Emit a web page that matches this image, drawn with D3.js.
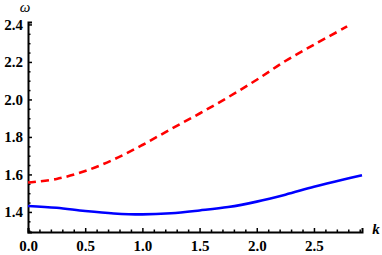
<!DOCTYPE html>
<html>
<head>
<meta charset="utf-8">
<script src="https://cdn.jsdelivr.net/npm/d3@7"></script>
<style>
  body { margin: 0; background: #fff; }
  svg text { font-family: 'Liberation Serif', 'DejaVu Serif', serif; }
</style>
</head>
<body>
<div id="chart"></div>
<script>
// wave numbers and the two branches
var kUpper = [0, 0.25, 0.5, 0.75, 1.0, 1.25, 1.5, 1.75, 2.0, 2.25, 2.5, 2.75, 2.79];
var omegaUpper = [1.557, 1.576, 1.618, 1.680, 1.757, 1.842, 1.925, 2.012, 2.105, 2.205, 2.292, 2.376, 2.39];
var kLower = [0, 0.25, 0.5, 0.75, 1.0, 1.25, 1.5, 1.75, 2.0, 2.25, 2.5, 2.75, 2.92];
var omegaLower = [1.432, 1.422, 1.405, 1.392, 1.387, 1.393, 1.408, 1.426, 1.455, 1.492, 1.534, 1.572, 1.596];
var xTicks = [0, 0.5, 1.0, 1.5, 2.0, 2.5];
var yTicks = [1.4, 1.6, 1.8, 2.0, 2.2, 2.4];

var width = 382, height = 255;
var margin = { left: 28, right: 20, top: 22, bottom: 23 };

var svg = d3.select('#chart').append('svg')
  .attr('width', width)
  .attr('height', height);

var x = d3.scaleLinear()
  .domain([0, 2.92])
  .range([margin.left, width - margin.right]);

var y = d3.scaleLinear()
  .domain([1.293, 2.413])
  .range([height - margin.bottom, margin.top]);

// minor ticks, Mathematica style
var xMinor = d3.range(0, 2.95, 0.1).filter(function(d) {
  return Math.abs(d * 2 - Math.round(d * 2)) > 1e-6;
});
var yMinor = d3.range(1.3, 2.42, 0.05).filter(function(d) {
  return Math.abs(d * 5 - Math.round(d * 5)) > 1e-6;
});

var gx = svg.append('g')
  .attr('transform', 'translate(0,' + (height - margin.bottom) + ')');
gx.call(d3.axisBottom(x).tickValues(xTicks).tickFormat(d3.format('.1f')).tickSize(-4).tickPadding(8));
gx.append('g').call(d3.axisBottom(x).tickValues(xMinor).tickFormat('').tickSize(-2.5))
  .select('.domain').remove();

var gy = svg.append('g')
  .attr('transform', 'translate(' + margin.left + ',0)');
gy.call(d3.axisLeft(y).tickValues(yTicks).tickFormat(d3.format('.1f')).tickSize(-4).tickPadding(5));
gy.append('g').call(d3.axisLeft(y).tickValues(yMinor).tickFormat('').tickSize(-2.5))
  .select('.domain').remove();

svg.selectAll('.domain').attr('stroke', '#000').attr('stroke-width', 2);
svg.selectAll('.tick line').attr('stroke', '#000').attr('stroke-width', 1.5);
svg.selectAll('.tick text')
  .attr('fill', '#000')
  .style('font-weight', '700')
  .style('font-size', '15px');

var line = d3.line()
  .x(function(d) { return x(d[0]); })
  .y(function(d) { return y(d[1]); })
  .curve(d3.curveCatmullRom.alpha(0.5));

svg.append('path')
  .datum(d3.zip(kLower, omegaLower))
  .attr('fill', 'none')
  .attr('stroke', '#0000ff')
  .attr('stroke-width', 2.6)
  .attr('d', line);

svg.append('path')
  .datum(d3.zip(kUpper, omegaUpper))
  .attr('fill', 'none')
  .attr('stroke', '#ff0000')
  .attr('stroke-width', 2.6)
  .attr('stroke-dasharray', '8,5')
  .attr('d', line);

// axis labels
svg.append('text')
  .attr('x', 25)
  .attr('y', 12)
  .attr('text-anchor', 'middle')
  .style('font-style', 'italic')
  .style('font-size', '15px')
  .text('ω');

svg.append('text')
  .attr('x', 376)
  .attr('y', 234)
  .attr('text-anchor', 'middle')
  .style('font-style', 'italic')
  .style('font-weight', '700')
  .style('font-size', '15px')
  .text('k');
</script>
</body>
</html>
